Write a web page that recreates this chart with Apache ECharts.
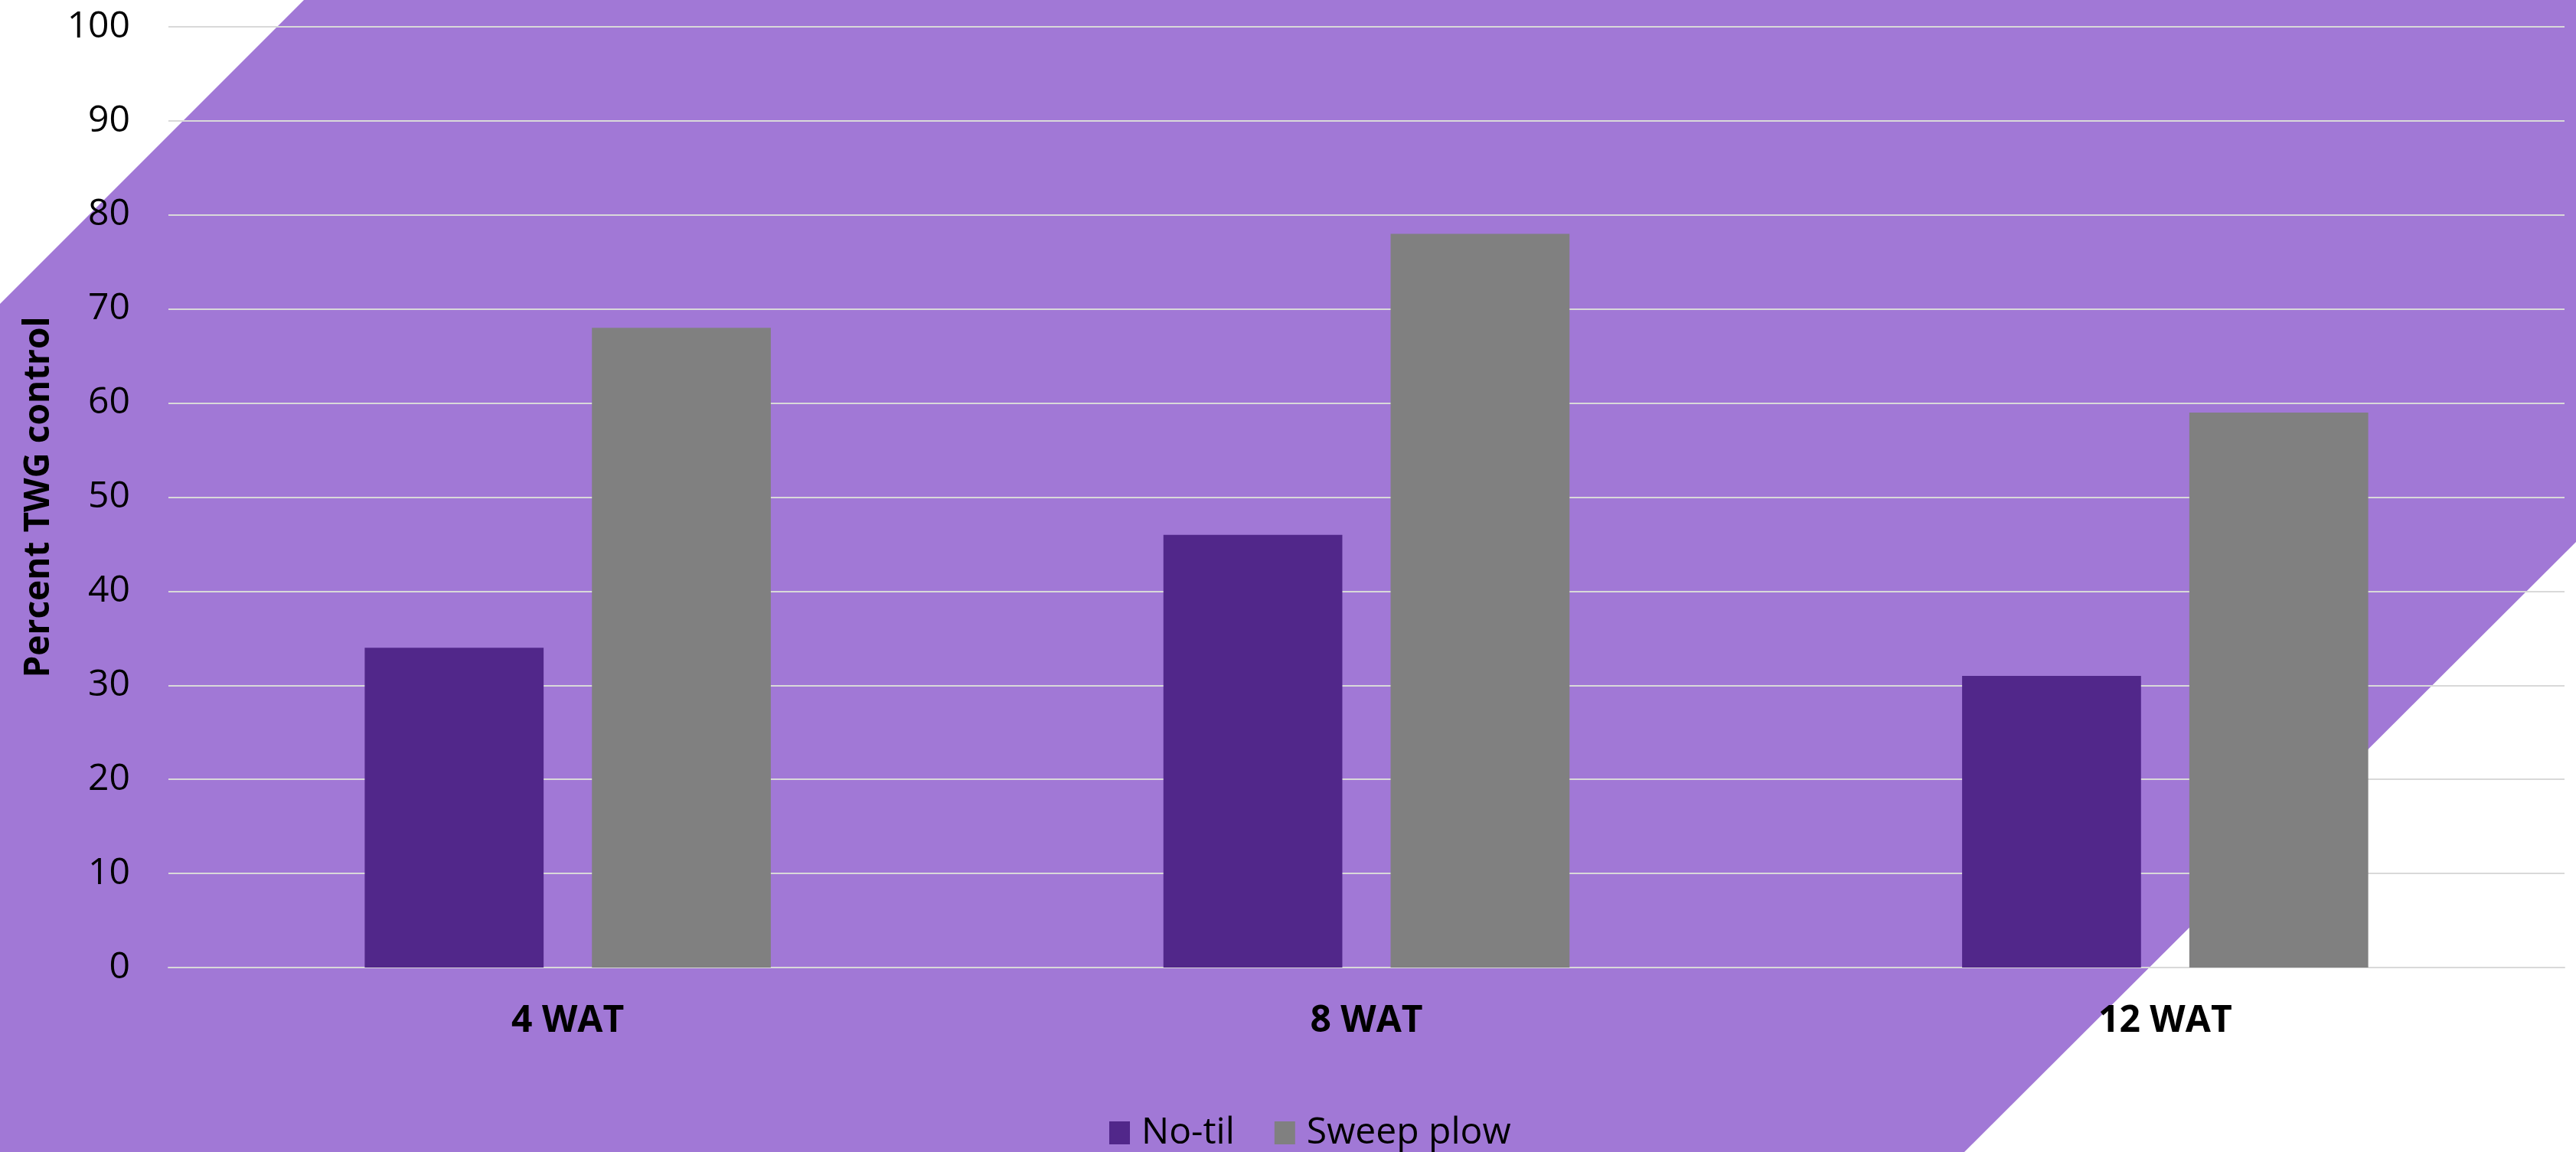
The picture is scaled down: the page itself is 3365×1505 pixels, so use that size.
<!DOCTYPE html>
<html>
<head>
<meta charset="utf-8">
<style>
  html, body { margin: 0; padding: 0; background: #ffffff; }
  #chart { width: 3365px; height: 1505px; }
</style>
<script src="https://cdn.jsdelivr.net/npm/echarts@6/dist/echarts.min.js"></script>
</head>
<body>
<div id="chart"></div>
<script>
// Weed control by tillage treatment, weeks after treatment
const categories = ['4 WAT', '8 WAT', '12 WAT'];
const noTil = [34, 46, 31];
const sweepPlow = [68, 78, 59];
const yTicks = { min: 0, max: 100, interval: 10 };

const FONT = '"Open Sans", "Noto Sans", sans-serif';
const W = 3365, H = 1505;

const chart = echarts.init(document.getElementById('chart'), null, { renderer: 'canvas' });

chart.setOption({
  backgroundColor: '#ffffff',
  animation: false,
  graphic: [{
    // panel with clipped top-left and bottom-right corners
    type: 'polygon',
    z: -10,
    silent: true,
    shape: {
      points: [[397, 0], [W, 0], [W, 708], [2566, H], [0, H], [0, 397]]
    },
    style: { fill: '#a178d6' }
  }],
  grid: { left: 220, right: 15, top: 35, bottom: 241, containLabel: false },
  legend: {
    data: ['No-til', 'Sweep plow'],
    left: 1444,
    top: 1447,
    itemWidth: 27,
    itemHeight: 30,
    itemGap: 52,
    icon: 'rect',
    textStyle: { fontFamily: FONT, fontSize: 48, color: '#000', padding: [0, 0, 0, 10], lineHeight: 56 }
  },
  xAxis: {
    type: 'category',
    data: categories,
    axisLine: { show: true, lineStyle: { color: '#d9d9d9', width: 2 } },
    axisTick: { show: false },
    axisLabel: { fontFamily: FONT, fontSize: 48, fontWeight: 'bold', color: '#000', margin: 46 }
  },
  yAxis: {
    type: 'value',
    min: yTicks.min,
    max: yTicks.max,
    interval: yTicks.interval,
    name: 'Percent TWG control',
    nameLocation: 'middle',
    nameGap: 146,
    nameTextStyle: { fontFamily: FONT, fontSize: 46, fontWeight: 'bold', color: '#000' },
    axisLine: { show: false },
    axisTick: { show: false },
    axisLabel: { fontFamily: FONT, fontSize: 48, color: '#000', margin: 50 },
    splitLine: { lineStyle: { color: '#d9d9d9', width: 2 } }
  },
  series: [
    {
      name: 'No-til',
      type: 'bar',
      data: noTil,
      barWidth: '22.4%',
      barGap: '27%',
      itemStyle: { color: '#51278a' }
    },
    {
      name: 'Sweep plow',
      type: 'bar',
      data: sweepPlow,
      barWidth: '22.4%',
      barGap: '27%',
      itemStyle: { color: '#808080' }
    }
  ]
});
</script>
</body>
</html>
